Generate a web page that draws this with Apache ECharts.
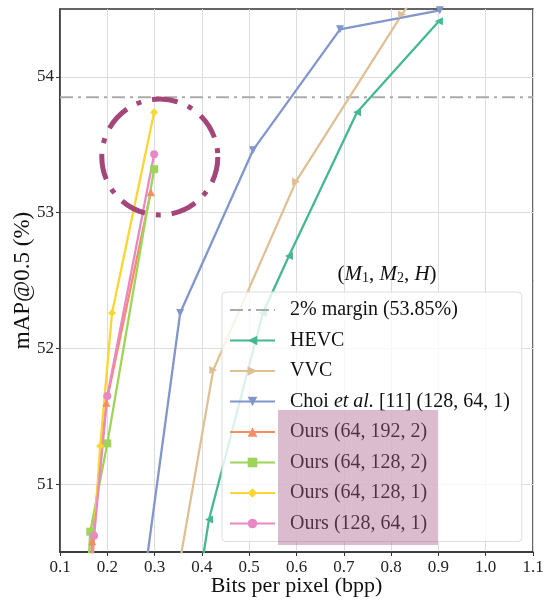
<!DOCTYPE html>
<html>
<head>
    <meta charset="utf-8">
    <title>mAP vs bpp</title>
    <script src="https://cdn.jsdelivr.net/npm/echarts@6/dist/echarts.min.js"></script>
</head>
<body style="margin:0">
    <div id="main" style="width:545px;height:602px;"></div>
    <script type="text/javascript">
    // data: [bpp, mAP@0.5]
    var marginValue = 53.85;
    var hevcData = [[0.395, 50.3], [0.415, 50.74], [0.529, 52.26], [0.584, 52.68], [0.728, 53.74], [0.901, 54.41]];
    var vvcData = [[0.345, 50.26], [0.424, 51.84], [0.599, 53.23], [0.823, 54.46], [0.88, 54.75]];
    var choiData = [[0.278, 50.3], [0.354, 52.26], [0.508, 53.46], [0.692, 54.35], [0.903, 54.49]];
    var ours192Data = [[0.163, 50.3], [0.168, 50.58], [0.198, 51.6], [0.292, 53.15]];
    var ours128h2Data = [[0.16, 50.4], [0.164, 50.65], [0.2, 51.3], [0.299, 53.32]];
    var ours128h1Data = [[0.166, 50.3], [0.185, 51.28], [0.21, 52.26], [0.299, 53.74]];
    var ours64Data = [[0.167, 50.4], [0.172, 50.62], [0.2, 51.65], [0.299, 53.43]];
    var yTicks = [51, 52, 53, 54];

    var names = ['2% margin (53.85%)', 'HEVC', 'VVC', 'Choi et al. [11] (128, 64, 1)',
        'Ours (64, 192, 2)', 'Ours (64, 128, 2)', 'Ours (64, 128, 1)', 'Ours (128, 64, 1)'];
    var serif = '"Liberation Serif", "DejaVu Serif", serif';

    var myChart = echarts.init(document.getElementById('main'));

    function lineSeries(name, data, color, symbol, rotate) {
        return {
            name: name,
            type: 'line',
            data: data,
            symbol: symbol,
            symbolSize: 8,
            symbolRotate: rotate || 0,
            lineStyle: { color: color, width: 2.3 },
            itemStyle: { color: color },
            clip: true,
            z: 3
        };
    }

    var legendData = names.map(function (n, i) {
        // the margin line has no marker in its legend entry
        return i === 0 ? { name: n, itemStyle: { opacity: 0 } } : { name: n };
    });

    var option = {
        animation: false,
        textStyle: { fontFamily: serif },
        grid: {
            left: 60, right: 12, top: 9, bottom: 50,
            outerBoundsMode: 'none',
            show: true, borderColor: '#333', borderWidth: 1.5
        },
        title: {
            text: '({i|M}{s|1}, {i|M}{s|2}, {i|H})',
            left: 382, top: 258, textAlign: 'center',
            textStyle: {
                fontFamily: serif, fontSize: 21, fontWeight: 'normal', color: '#111',
                rich: {
                    i: { fontFamily: serif, fontStyle: 'italic', fontSize: 21, color: '#111' },
                    s: { fontFamily: serif, fontSize: 14, color: '#111', verticalAlign: 'bottom', padding: [8, 0, 0, 0] }
                }
            }
        },
        legend: {
            orient: 'vertical',
            left: 222, top: 292,
            data: legendData,
            itemWidth: 45, itemHeight: 12, itemGap: 10.5,
            padding: [8, 12, 8, 7],
            backgroundColor: 'rgba(255,255,255,0.8)',
            borderColor: '#ddd', borderWidth: 1, borderRadius: 4,
            formatter: function (n) {
                if (n.indexOf('Choi') === 0) {
                    return 'Choi {i|et al.} [11] (128, 64, 1)';
                }
                return n;
            },
            textStyle: {
                fontFamily: serif, fontSize: 20, color: '#111', lineHeight: 19,
                padding: [0, 0, 0, 10],
                rich: { i: { fontFamily: serif, fontStyle: 'italic', fontSize: 20, color: '#111' } }
            }
        },
        xAxis: {
            type: 'value',
            min: 0.1, max: 1.1, interval: 0.1,
            name: 'Bits per pixel (bpp)',
            nameLocation: 'middle', nameGap: 23, nameMoveOverlap: false,
            nameTextStyle: { fontFamily: serif, fontSize: 22, color: '#111', verticalAlign: 'top' },
            axisLine: { lineStyle: { color: '#333', width: 1.5 } },
            axisTick: { show: true, length: 4, lineStyle: { color: '#333' } },
            axisLabel: {
                fontFamily: serif, fontSize: 17, color: '#222', margin: 7,
                formatter: function (v) { return v.toFixed(1); }
            },
            splitLine: { show: true, lineStyle: { color: '#dcdcdc', width: 1 } }
        },
        yAxis: {
            type: 'value',
            min: 50.5, max: 54.5, interval: 1,
            name: 'mAP@0.5 (%)',
            nameLocation: 'middle', nameGap: 26, nameMoveOverlap: false,
            nameTextStyle: { fontFamily: serif, fontSize: 23, color: '#111' },
            axisLine: { show: true, lineStyle: { color: '#333', width: 1.5 } },
            axisTick: { show: true, length: 4, customValues: yTicks, lineStyle: { color: '#333' } },
            axisLabel: { fontFamily: serif, fontSize: 17, color: '#222', margin: 6, customValues: yTicks },
            splitLine: { show: true, lineStyle: { color: '#dcdcdc', width: 1 } }
        },
        series: [
            {
                name: names[0],
                type: 'line',
                data: [[0.1, marginValue], [1.1, marginValue]],
                symbol: 'none',
                lineStyle: { color: '#aaaaaa', width: 2, type: [13, 5, 3, 5] },
                itemStyle: { color: '#aaaaaa' },
                z: 2
            },
            lineSeries(names[1], hevcData, '#45b890', 'triangle', 90),
            lineSeries(names[2], vvcData, '#dfc095', 'triangle', -90),
            lineSeries(names[3], choiData, '#8196cb', 'triangle', 180),
            lineSeries(names[4], ours192Data, '#f98c63', 'triangle', 0),
            lineSeries(names[5], ours128h2Data, '#9fd45a', 'rect', 0),
            lineSeries(names[6], ours128h1Data, '#fbd532', 'diamond', 0),
            lineSeries(names[7], ours64Data, '#e889c4', 'circle', 0)
        ]
    };
    myChart.setOption(option);

    // annotations: dashed circle round the "Ours" cluster, shaded block behind the "Ours" legend rows
    var c = myChart.convertToPixel({ gridIndex: 0 }, [0.311, 53.41]);
    myChart.setOption({
        graphic: [
            {
                type: 'circle',
                shape: { cx: c[0], cy: c[1], r: 58 },
                style: { fill: 'none', stroke: '#a3467a', lineWidth: 5, lineDash: [26, 11, 5, 11] },
                z: 10
            },
            {
                type: 'rect',
                shape: { x: 278, y: 410, width: 160, height: 135 },
                style: { fill: 'rgba(170, 95, 140, 0.42)' },
                z: 10
            }
        ]
    });
    </script>
</body>
</html>
